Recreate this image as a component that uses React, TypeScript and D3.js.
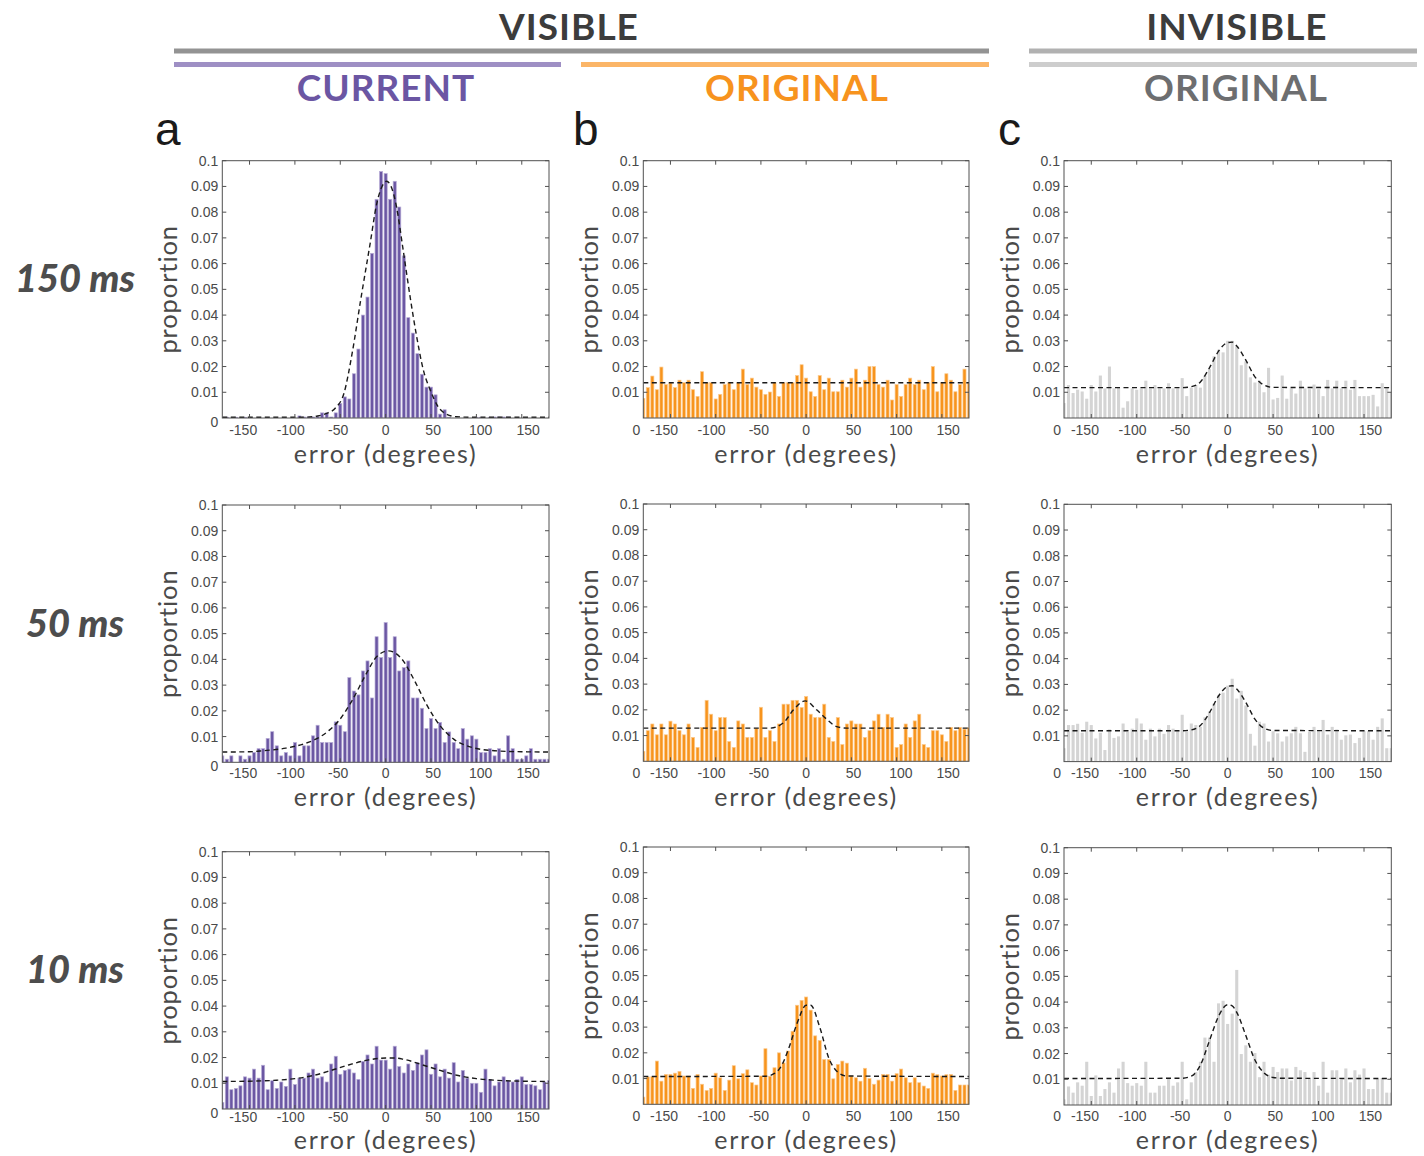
import React from "react";
import * as d3 from "d3";

// ---------- categories / ticks ----------
const BIN_CENTERS = d3.range(-180, 181, 5); // 73 histogram bins (degrees)
const X_TICKS = [-150, -100, -50, 0, 50, 100, 150];
const X_TICK_LABELS = ["-150", "-100", "-50", "0", "50", "100", "150"];
const Y_TICKS = [0.01, 0.02, 0.03, 0.04, 0.05, 0.06, 0.07, 0.08, 0.09, 0.1];
const Y_TICK_LABELS = ["0.01", "0.02", "0.03", "0.04", "0.05", "0.06", "0.07", "0.08", "0.09", "0.1"];

const ROW_LABELS = ["150 ms", "50 ms", "10 ms"];
const PANEL_LETTERS = ["a", "b", "c"];
const GROUP_TITLES = ["VISIBLE", "INVISIBLE"];
const SUB_TITLES = ["CURRENT", "ORIGINAL", "ORIGINAL"];

// ---------- series values (proportion per bin) ----------
const visCurrent150 = [
  0.0003, 0.0003, 0, 0.0003, 0, 0.0003, 0, 0, 0, 0, 0, 0, 0, 0, 0, 0, 0, 0.0008, 0.0004, 0.0004, 0.0004, 0.0005,
  0.002, 0.002, 0.0004, 0.002, 0.0056, 0.0082, 0.0074, 0.0172, 0.0268, 0.04,
  0.047, 0.064, 0.085, 0.0958, 0.095, 0.085, 0.092, 0.082, 0.063, 0.039,
  0.033, 0.025, 0.017, 0.012, 0.012, 0.009, 0.0015, 0.0032, 0.0003,
  0, 0, 0, 0, 0, 0.0003, 0.0003, 0, 0.0003, 0.0004, 0.0004, 0.0004, 0.0004, 0, 0, 0, 0, 0, 0, 0, 0, 0,
];
const visCurrent50 = [
  0.0025, 0.0012, 0.0025, 0, 0.0025, 0.0012, 0.0025, 0.0038, 0.0053, 0.0053,
  0.0093, 0.0119, 0.0064, 0.0025, 0.0038, 0.0025, 0.0077, 0.0025, 0.0064, 0.0064,
  0.0103, 0.0144, 0.0077, 0.0077, 0.0077, 0.0157, 0.0144, 0.0119, 0.0329, 0.0277,
  0.0262, 0.0355, 0.0394, 0.025, 0.0488, 0.0407, 0.0543, 0.0407, 0.0488, 0.0355,
  0.0368, 0.0394, 0.025, 0.025, 0.021, 0.0131, 0.017, 0.0131, 0.0155, 0.0077,
  0.0118, 0.0077, 0.0053, 0.0131, 0.009, 0.0103, 0.009, 0.0038, 0.0038, 0.0053,
  0.0025, 0.0053, 0.0012, 0.0103, 0.0053, 0.0012, 0.0012, 0.0025, 0.0053, 0.0012,
  0.0012, 0.0012, 0.0012,
];
const visCurrent10 = [
  0.0025, 0.0125, 0.0075, 0.008, 0.009, 0.0125, 0.012, 0.0155, 0.012, 0.017,
  0.0075, 0.011, 0.008, 0.0105, 0.0088, 0.0155, 0.0095, 0.012, 0.012, 0.014,
  0.0155, 0.012, 0.0125, 0.0105, 0.0175, 0.0205, 0.0135, 0.015, 0.0155, 0.014,
  0.0115, 0.0185, 0.021, 0.0175, 0.0244, 0.019, 0.019, 0.0155, 0.0244, 0.0165,
  0.014, 0.0175, 0.015, 0.018, 0.021, 0.023, 0.0135, 0.0175, 0.0125, 0.0155,
  0.012, 0.018, 0.0105, 0.015, 0.012, 0.01, 0.01, 0.0065, 0.0155, 0.0115,
  0.009, 0.0105, 0.0125, 0.011, 0.0105, 0.0115, 0.0125, 0.0095, 0.0095, 0.009,
  0.0075, 0.0105, 0.011,
];
const visOriginal150 = [
  0.0076, 0.0118, 0.0163, 0.011, 0.0198, 0.013, 0.0136, 0.0118, 0.0147, 0.0137,
  0.0147, 0.011, 0.0084, 0.018, 0.0137, 0.0137, 0.0074, 0.0092, 0.013, 0.0137,
  0.011, 0.0137, 0.019, 0.013, 0.0155, 0.012, 0.011, 0.0092, 0.0101, 0.0137,
  0.0084, 0.0137, 0.0137, 0.0137, 0.0165, 0.0207, 0.0155, 0.0102, 0.0084, 0.0165,
  0.011, 0.0155, 0.0102, 0.0102, 0.0147, 0.012, 0.0155, 0.019, 0.012, 0.0147,
  0.02, 0.02, 0.013, 0.012, 0.0147, 0.007, 0.013, 0.0084, 0.013, 0.0155,
  0.013, 0.0147, 0.011, 0.0137, 0.02, 0.0102, 0.0137, 0.0172, 0.0147, 0.0102,
  0.013, 0.019, 0.0135,
];
const visOriginal50 = [
  0.0039, 0.0119, 0.0145, 0.0103, 0.0145, 0.0103, 0.0156, 0.0145, 0.0119, 0.0103,
  0.0145, 0.0093, 0.0054, 0.0132, 0.0237, 0.0183, 0.0119, 0.017, 0.017, 0.0077,
  0.0054, 0.0157, 0.0145, 0.0093, 0.0093, 0.0128, 0.021, 0.0093, 0.0119, 0.0077,
  0.0145, 0.0222, 0.0222, 0.0237, 0.0237, 0.0209, 0.0252, 0.0183, 0.017, 0.017,
  0.0222, 0.0093, 0.0077, 0.017, 0.0065, 0.0145, 0.0157, 0.0145, 0.0145, 0.0093,
  0.0119, 0.0157, 0.0183, 0.0132, 0.0183, 0.017, 0.0054, 0.0065, 0.0145, 0.0093,
  0.0157, 0.0183, 0.0065, 0.0054, 0.0119, 0.0119, 0.0103, 0.0077, 0.0132, 0.0119,
  0.0132, 0.0125, 0.013,
];
const visOriginal10 = [
  0.0028, 0.0106, 0.0107, 0.0168, 0.009, 0.0116, 0.0116, 0.0121, 0.0128, 0.011,
  0.011, 0.0062, 0.0116, 0.0078, 0.0054, 0.0062, 0.0121, 0.0103, 0.0054, 0.0094,
  0.015, 0.0099, 0.0119, 0.0134, 0.0084, 0.0075, 0.011, 0.0216, 0.0109, 0.0142,
  0.02, 0.0161, 0.0207, 0.0284, 0.0385, 0.0404, 0.0417, 0.0366, 0.0266, 0.0248,
  0.0174, 0.0174, 0.0099, 0.0155, 0.0168, 0.016, 0.011, 0.0103, 0.009, 0.014,
  0.01, 0.0078, 0.0094, 0.0116, 0.0116, 0.009, 0.0119, 0.0137, 0.0103, 0.0084,
  0.0103, 0.0084, 0.0071, 0.0062, 0.0121, 0.0115, 0.011, 0.0115, 0.0116, 0.0054,
  0.0075, 0.0075, 0.0075,
];
const invOriginal150 = [
  0.0058, 0.0128, 0.0097, 0.011, 0.0103, 0.0075, 0.0128, 0.0103, 0.0165, 0.0115,
  0.02, 0.0115, 0.0118, 0.004, 0.0065, 0.0115, 0.011, 0.0115, 0.0145, 0.0115,
  0.0128, 0.0115, 0.0115, 0.0135, 0.0115, 0.0115, 0.0155, 0.0085, 0.0118, 0.0128,
  0.0118, 0.0165, 0.019, 0.024, 0.0265, 0.0255, 0.03, 0.03, 0.028, 0.0205,
  0.022, 0.0158, 0.0138, 0.0145, 0.01, 0.0195, 0.0072, 0.0078, 0.0165, 0.0075,
  0.0115, 0.0095, 0.0145, 0.0115, 0.0112, 0.013, 0.0112, 0.0085, 0.0148, 0.0115,
  0.0145, 0.0115, 0.0145, 0.011, 0.0148, 0.0085, 0.0085, 0.0085, 0.009, 0.0045,
  0.0135, 0.012, 0.0098,
];
const invOriginal50 = [
  0.0052, 0.0142, 0.0142, 0.0147, 0.0112, 0.0155, 0.0142, 0.009, 0.0112, 0.0045,
  0.0125, 0.0092, 0.0098, 0.0148, 0.0115, 0.0128, 0.0168, 0.0148, 0.0085, 0.0128,
  0.0098, 0.0128, 0.0108, 0.0142, 0.0128, 0.0118, 0.0182, 0.0118, 0.0148, 0.0142,
  0.0135, 0.0172, 0.0195, 0.0225, 0.0258, 0.0268, 0.0295, 0.0322, 0.0245, 0.0275,
  0.0218, 0.0108, 0.0062, 0.0155, 0.0148, 0.0078, 0.0118, 0.011, 0.0078, 0.0098,
  0.011, 0.0135, 0.011, 0.0038, 0.0115, 0.0135, 0.0118, 0.0162, 0.0105, 0.0135,
  0.0125, 0.0085, 0.0102, 0.0105, 0.0072, 0.0092, 0.0118, 0.0118, 0.0085, 0.0135,
  0.0168, 0.0052, 0.0052,
];
const invOriginal10 = [
  0.0022, 0.0072, 0.0048, 0.0088, 0.0075, 0.0168, 0.0035, 0.0115, 0.0035, 0.0062,
  0.0088, 0.0048, 0.0142, 0.0168, 0.0085, 0.0075, 0.0085, 0.0075, 0.0168, 0.0048,
  0.0048, 0.0075, 0.0075, 0.0102, 0.0075, 0.0088, 0.0168, 0.0022, 0.0088, 0.0128,
  0.0168, 0.0262, 0.0262, 0.0168, 0.0395, 0.0405, 0.0315, 0.0355, 0.0525, 0.0198,
  0.0232, 0.0168, 0.0202, 0.0108, 0.0168, 0.0118, 0.0148, 0.0128, 0.0142, 0.0142,
  0.0095, 0.0148, 0.0135, 0.0128, 0.0102, 0.0128, 0.0075, 0.0168, 0.0048, 0.0135,
  0.0135, 0.0102, 0.0142, 0.0088, 0.0135, 0.0118, 0.0142, 0.0062, 0.0062, 0.0102,
  0.0105, 0.0048, 0.0048,
];

// ---------- fitted model curves (degrees, proportion) ----------
const fitVisCurrent150: [number, number][] = [
  [-180, 0.0003], [-90, 0.0003], [-75, 0.0008], [-65, 0.0018], [-55, 0.004], [-46, 0.0095],
  [-37, 0.025], [-27, 0.047], [-17, 0.068], [-10, 0.083], [-4, 0.09], [1, 0.092], [6, 0.09],
  [12, 0.082], [19, 0.066], [27, 0.047], [34, 0.032], [42, 0.018], [49, 0.011], [58, 0.0043],
  [67, 0.0015], [78, 0.0005], [95, 0.0003], [180, 0.0003],
];
const fitVisCurrent50: [number, number][] = [
  [-180, 0.004], [-150, 0.0041], [-135, 0.0045], [-110, 0.0055], [-90, 0.0072], [-77, 0.009],
  [-62, 0.0125], [-52, 0.016], [-37, 0.024], [-22, 0.034], [-10, 0.041], [3, 0.0433],
  [17, 0.0405], [32, 0.0316], [45, 0.0225], [60, 0.0142], [75, 0.009], [95, 0.0058],
  [120, 0.0045], [150, 0.0041], [180, 0.004],
];
const fitVisCurrent10: [number, number][] = [
  [-180, 0.0107], [-150, 0.0108], [-120, 0.0112], [-100, 0.0118], [-80, 0.013], [-60, 0.015],
  [-40, 0.0172], [-20, 0.019], [0, 0.0198], [10, 0.0198], [20, 0.0193], [40, 0.0172],
  [60, 0.015], [80, 0.013], [100, 0.0118], [120, 0.0112], [150, 0.0108], [180, 0.0107],
];
const fitVisOriginal150: [number, number][] = [[-180, 0.0137], [180, 0.0137]];
const fitVisOriginal50: [number, number][] = [
  [-180, 0.0129], [-40, 0.0129], [-25, 0.015], [-14, 0.02], [-1, 0.0235], [11.6, 0.02],
  [22.6, 0.0164], [33.7, 0.0135], [45, 0.0129], [180, 0.0129],
];
const fitVisOriginal10: [number, number][] = [
  [-180, 0.0108], [-45, 0.0109], [-35, 0.012], [-28, 0.0145], [-20, 0.021], [-10, 0.0315],
  [0, 0.0385], [5, 0.0385], [15, 0.03], [25, 0.018], [35, 0.0125], [45, 0.011], [180, 0.0108],
];
const fitInvOriginal150: [number, number][] = [
  [-180, 0.0118], [-50, 0.0118], [-40, 0.0122], [-30, 0.014], [-20, 0.0195], [-10, 0.026],
  [0, 0.0293], [5, 0.0295], [10, 0.028], [20, 0.0225], [30, 0.016], [40, 0.0128], [50, 0.0119],
  [180, 0.0118],
];
const fitInvOriginal50: [number, number][] = [
  [-180, 0.012], [-50, 0.012], [-40, 0.0123], [-30, 0.014], [-20, 0.019], [-10, 0.0255],
  [0, 0.0292], [5, 0.0295], [10, 0.0282], [20, 0.023], [30, 0.0165], [40, 0.013], [50, 0.0121],
  [180, 0.012],
];
const fitInvOriginal10: [number, number][] = [
  [-180, 0.0103], [-50, 0.0104], [-40, 0.0112], [-30, 0.0155], [-20, 0.025], [-10, 0.0345],
  [0, 0.039], [5, 0.0385], [10, 0.036], [20, 0.027], [30, 0.0175], [40, 0.0125], [50, 0.0107],
  [60, 0.0104], [180, 0.0103],
];

// ---------- layout ----------
const W = 1424;
const H = 1156;
const COL_X: [number, number][] = [[222.3, 549], [643.3, 969], [1064, 1391.3]];
const PANEL_TOPS = [
  [160.7, 160.7, 160.7],
  [505, 504, 504.3],
  [851.7, 847, 847.7],
];
const PLOT_H = 257.3;

const COL_STYLE = [
  { fill: "#6b57a3", stroke: "#b7acd6" },
  { fill: "#f7941d", stroke: "#fcc98c" },
  { fill: "#d4d4d4", stroke: "none" },
];

const SERIES = [
  [visCurrent150, visOriginal150, invOriginal150],
  [visCurrent50, visOriginal50, invOriginal50],
  [visCurrent10, visOriginal10, invOriginal10],
];
const FITS = [
  [fitVisCurrent150, fitVisOriginal150, fitInvOriginal150],
  [fitVisCurrent50, fitVisOriginal50, fitInvOriginal50],
  [fitVisCurrent10, fitVisOriginal10, fitInvOriginal10],
];

const TICK_FONT = "'Liberation Sans', Arial, Helvetica, sans-serif";
const LABEL_FONT = "Lato, 'Open Sans', sans-serif";

function Panel({ row, col }: { row: number; col: number }) {
  const [left, right] = COL_X[col];
  const top = PANEL_TOPS[row][col];
  const bottom = top + PLOT_H;
  const rowBase = Math.min(...PANEL_TOPS[row]) + PLOT_H; // shared label line of the row
  const values = SERIES[row][col];
  const fit = FITS[row][col];
  const style = COL_STYLE[col];

  const x = d3.scaleLinear().domain([-180, 180]).range([left, right]);
  const xLabel = d3.scaleLinear().domain([-172, 172]).range([left, right]);
  const y = d3.scaleLinear().domain([0, 0.1]).range([bottom, top]);
  const bw = x(5) - x(0);
  const barW = bw * 0.68;
  const clipId = `clip-${row}-${col}`;

  const line = d3
    .line<[number, number]>()
    .x((d) => x(d[0]))
    .y((d) => y(d[1]))
    .curve(d3.curveMonotoneX);

  const tickLen = 4;
  const frameColor = "#505050";

  return (
    <g>
      <defs>
        <clipPath id={clipId}>
          <rect x={left} y={top} width={right - left} height={bottom - top} />
        </clipPath>
      </defs>
      <g clipPath={`url(#${clipId})`}>
        {values.map((v, i) => (
          <rect
            key={i}
            x={x(BIN_CENTERS[i]) - barW / 2}
            y={y(v)}
            width={barW}
            height={Math.max(0, bottom - y(v))}
            fill={style.fill}
            stroke={style.stroke}
            strokeWidth={style.stroke === "none" ? 0 : 0.7}
          />
        ))}
        <path d={line(fit) || ""} fill="none" stroke="#1a1a1a" strokeWidth={1.4} strokeDasharray="5,3.5" />
      </g>
      {/* frame */}
      <rect x={left} y={top} width={right - left} height={bottom - top} fill="none" stroke={frameColor} strokeWidth={1} />
      {/* ticks */}
      {Y_TICKS.map((t) => (
        <g key={"yt" + t}>
          <line x1={left} x2={left + tickLen} y1={y(t)} y2={y(t)} stroke={frameColor} strokeWidth={1} />
          <line x1={right} x2={right - tickLen} y1={y(t)} y2={y(t)} stroke={frameColor} strokeWidth={1} />
        </g>
      ))}
      {X_TICKS.map((t) => (
        <g key={"xt" + t}>
          <line x1={x(t)} x2={x(t)} y1={top} y2={top + tickLen} stroke={frameColor} strokeWidth={1} />
          <line x1={x(t)} x2={x(t)} y1={bottom} y2={bottom - tickLen} stroke={frameColor} strokeWidth={1} />
        </g>
      ))}
      {/* y tick labels */}
      {Y_TICKS.map((t, i) => (
        <text
          key={"yl" + t}
          x={left - 4}
          y={y(t) + 5}
          textAnchor="end"
          fontFamily={TICK_FONT}
          fontSize={14}
          fill="#4a4a4a"
        >
          {Y_TICK_LABELS[i]}
        </text>
      ))}
      <text
        x={col === 0 ? left - 4 : left - 3}
        y={col === 0 ? bottom + 9 : rowBase + 17}
        textAnchor="end"
        fontFamily={TICK_FONT}
        fontSize={14}
        fill="#4a4a4a"
      >
        0
      </text>
      {/* x tick labels */}
      {X_TICKS.map((t, i) => (
        <text
          key={"xl" + t}
          x={xLabel(t)}
          y={Math.max(rowBase + 17, bottom + 13)}
          textAnchor="middle"
          fontFamily={TICK_FONT}
          fontSize={14}
          fill="#4a4a4a"
        >
          {X_TICK_LABELS[i]}
        </text>
      ))}
      {/* axis titles */}
      <text
        x={(left + right) / 2}
        y={rowBase + 44.5}
        textAnchor="middle"
        fontFamily={LABEL_FONT}
        fontSize={25}
        letterSpacing={1.7}
        fill="#4a4a4a"
      >
        error (degrees)
      </text>
      <text
        transform={`translate(${left - 45},${(top + bottom) / 2}) rotate(-90)`}
        textAnchor="middle"
        fontFamily={LABEL_FONT}
        fontSize={25.5}
        letterSpacing={0.9}
        fill="#4a4a4a"
      >
        proportion
      </text>
    </g>
  );
}

export default function App() {
  const headerFont = "Lato, 'Open Sans', sans-serif";
  return (
    <svg
      width={W}
      height={H}
      viewBox={`0 0 ${W} ${H}`}
      style={{ position: "absolute", left: 0, top: 0, background: "#ffffff" }}
    >
      <rect x={0} y={0} width={W} height={H} fill="#ffffff" />
      {/* group headers */}
      <text x={569} y={40} textAnchor="middle" fontFamily={headerFont} fontWeight={700} fontSize={37} letterSpacing={1} fill="#3c3c3c">
        {GROUP_TITLES[0]}
      </text>
      <text x={1237} y={40} textAnchor="middle" fontFamily={headerFont} fontWeight={700} fontSize={37} letterSpacing={1} fill="#3c3c3c">
        {GROUP_TITLES[1]}
      </text>
      <rect x={174} y={48.5} width={815} height={5} fill="#939393" />
      <rect x={1029} y={48.5} width={388} height={5} fill="#b1b1b1" />
      <rect x={174} y={62} width={387} height={5} fill="#9e8fc4" />
      <rect x={581} y={62} width={408} height={5} fill="#fbb567" />
      <rect x={1029} y={62} width={388} height={5} fill="#cdcdcd" />
      <text x={386} y={101} textAnchor="middle" fontFamily={headerFont} fontWeight={700} fontSize={37} letterSpacing={1} fill="#6b56a3">
        {SUB_TITLES[0]}
      </text>
      <text x={797} y={101} textAnchor="middle" fontFamily={headerFont} fontWeight={700} fontSize={37} letterSpacing={1} fill="#f7931e">
        {SUB_TITLES[1]}
      </text>
      <text x={1236} y={101} textAnchor="middle" fontFamily={headerFont} fontWeight={700} fontSize={37} letterSpacing={1} fill="#6d6e70">
        {SUB_TITLES[2]}
      </text>
      {/* panel letters */}
      {[155, 573, 998].map((px, i) => (
        <text key={"pl" + i} x={px} y={145} fontFamily={TICK_FONT} fontSize={46} fill="#1a1a1a">
          {PANEL_LETTERS[i]}
        </text>
      ))}
      {/* row labels */}
      {ROW_LABELS.map((lab, r) => (
        <text
          key={"rl" + r}
          x={75}
          y={PANEL_TOPS[r][0] + PLOT_H / 2 + 3}
          textAnchor="middle"
          fontFamily={headerFont}
          fontWeight={900}
          fontStyle="italic"
          fontSize={38}
          fill="#4d4d4d"
        >
          {lab}
        </text>
      ))}
      {[0, 1, 2].map((r) => [0, 1, 2].map((c) => <Panel key={`p${r}${c}`} row={r} col={c} />))}
    </svg>
  );
}
